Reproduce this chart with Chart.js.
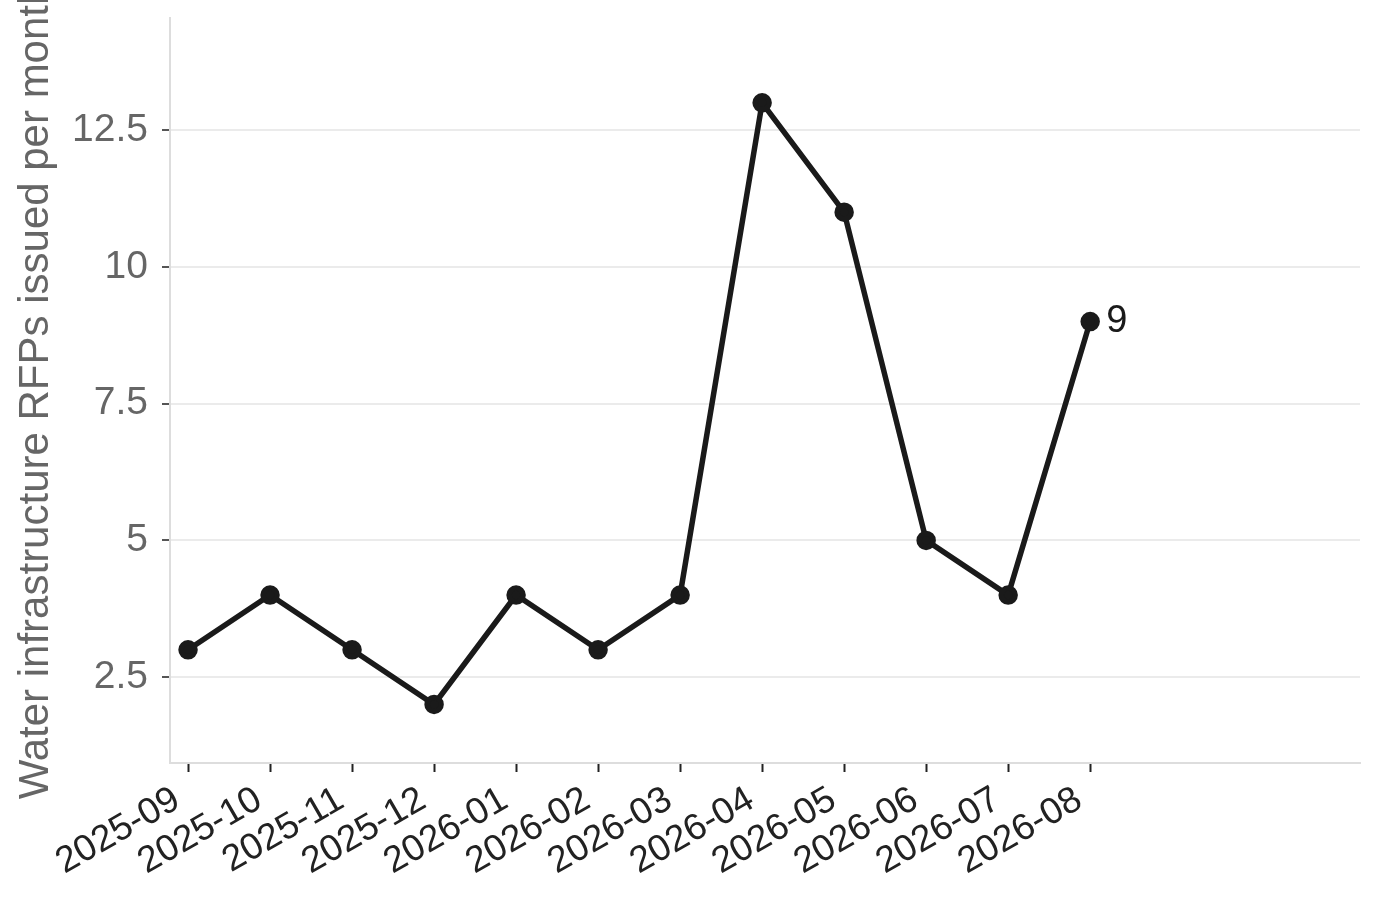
<!DOCTYPE html>
<html>
<head>
<meta charset="utf-8">
<script src="https://cdn.jsdelivr.net/npm/chart.js@4"></script>
<style>
  html, body { margin: 0; padding: 0; background: #fff; }
  #wrap { width: 1379px; height: 899px; position: relative; }
</style>
</head>
<body>
<div id="wrap"><canvas id="canvas"></canvas></div>
<script>
// monthly RFP counts
var months = ["2025-09","2025-10","2025-11","2025-12","2026-01","2026-02","2026-03","2026-04","2026-05","2026-06","2026-07","2026-08"];
var rfpCounts = [3, 4, 3, 2, 4, 3, 4, 13, 11, 5, 4, 9];
var yTicks = [2.5, 5, 7.5, 10, 12.5];
var yTitle = "Water infrastructure RFPs issued per month";

var points = months.map(function (m, i) { return { x: i, y: rfpCounts[i] }; });

// label on the last point
var lastLabel = {
    id: "lastLabel",
    afterDatasetsDraw: function (chart) {
        var ctx = chart.ctx;
        var n = rfpCounts.length - 1;
        var px = chart.scales.x.getPixelForValue(n);
        var py = chart.scales.y.getPixelForValue(rfpCounts[n]);
        ctx.save();
        ctx.font = "38px 'Liberation Sans', Arial, sans-serif";
        ctx.fillStyle = "#1a1a1a";
        ctx.textAlign = "left";
        ctx.textBaseline = "middle";
        ctx.fillText(String(rfpCounts[n]), px + 16, py);
        ctx.restore();
    }
};

var ctx = document.getElementById("canvas").getContext("2d");
var config = {
    type: "line",
    data: {
        datasets: [{
            data: points,
            borderColor: "#1a1a1a",
            backgroundColor: "#1a1a1a",
            pointBackgroundColor: "#1a1a1a",
            pointBorderColor: "#1a1a1a",
            borderWidth: 5.5,
            pointRadius: 7,
            pointHoverRadius: 7,
            tension: 0,
            fill: false,
            clip: false
        }]
    },
    options: {
        responsive: true,
        maintainAspectRatio: false,
        animation: false,
        layout: { padding: { top: 18, right: 19, left: 0, bottom: 0 } },
        plugins: {
            legend: { display: false },
            tooltip: { enabled: false }
        },
        scales: {
            x: {
                type: "linear",
                min: -0.22,
                max: 14.29,
                afterBuildTicks: function (scale) {
                    scale.ticks = months.map(function (m, i) { return { value: i }; });
                },
                afterFit: function (scale) {
                    scale.height = 136;
                    scale.paddingLeft = 0;
                    scale.paddingRight = 0;
                },
                ticks: {
                    autoSkip: false,
                    minRotation: 30,
                    maxRotation: 30,
                    padding: 6,
                    labelOffset: -11,
                    color: "#222",
                    font: { family: "'Liberation Sans', Arial, sans-serif", size: 37 },
                    callback: function (v) { return months[v]; }
                },
                grid: {
                    drawOnChartArea: false,
                    drawTicks: true,
                    tickLength: 9,
                    tickWidth: 2,
                    tickColor: "#222"
                },
                border: { color: "#dddddd", width: 2 }
            },
            y: {
                min: 0.93,
                max: 14.55,
                afterBuildTicks: function (scale) {
                    scale.ticks = yTicks.map(function (v) { return { value: v }; });
                },
                afterFit: function (scale) {
                    scale.width = 170;
                    scale.paddingTop = 0;
                    scale.paddingBottom = 0;
                },
                ticks: {
                    padding: 14,
                    color: "#666",
                    font: { family: "'Liberation Sans', Arial, sans-serif", size: 39 },
                    callback: function (v) { return String(v); }
                },
                grid: {
                    color: "#ebebeb",
                    lineWidth: 2,
                    tickLength: 8,
                    tickWidth: 2,
                    tickColor: "#555"
                },
                border: { color: "#dddddd", width: 2 },
                title: {
                    display: true,
                    text: yTitle,
                    color: "#666",
                    padding: { top: 11, bottom: 0 },
                    font: { family: "'Liberation Sans', Arial, sans-serif", size: 42 }
                }
            }
        }
    },
    plugins: [lastLabel]
};
var myLineChart = new Chart(ctx, config);
</script>
</body>
</html>
